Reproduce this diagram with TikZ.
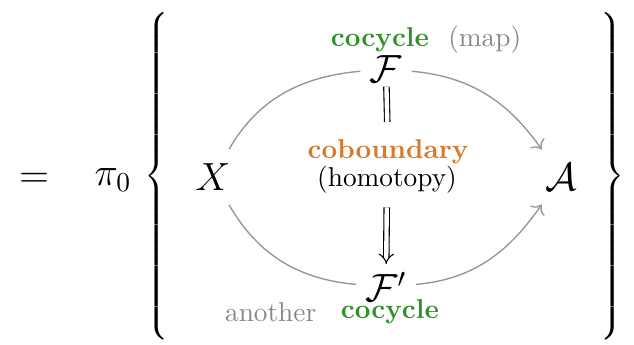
\documentclass[tikz,border=0pt]{standalone}
\usepackage{amsmath,amssymb}
\usepackage{xcolor}
\usetikzlibrary{arrows.meta,positioning}
\definecolor{cocyclegreen}{RGB}{50, 145, 45}
\definecolor{cobdorange}{RGB}{214, 122, 45}
\definecolor{softgray}{RGB}{135, 135, 135}
\definecolor{arcgray}{RGB}{150, 150, 150}

\begin{document}
\begin{tikzpicture}[x=0.3663pt, y=-0.3663pt,
    bigmath/.style={font=\Large},
    arc/.style={draw=arcgray, line width=0.5pt, -{To[length=3pt]}},
    plainarc/.style={draw=arcgray, line width=0.5pt}]
    \useasboundingbox (0,0) rectangle (634,344);

    \node[bigmath] (eq) at (34,180) {$=$};
    \node[bigmath] (pi) at (113,180) {$\pi_0$};
    \node[inner sep=0pt] (lbrace) at (158,176) {$\left\{\vrule height 63.5pt depth 58.5pt width 0pt\right.$};
    \node[inner sep=0pt] (rbrace) at (611,176) {$\left.\vrule height 63.5pt depth 58.5pt width 0pt\right\}$};

    \node[bigmath] (X) at (213,177) {$X$};
    \node[bigmath] (A) at (561,177) {$\mathcal{A}$};
    \node[bigmath] (F) at (386,69) {$\mathcal{F}$};
    \node[bigmath] (Fp) at (386,287) {$\mathcal{F}'$};

    \node (cocyc) at (380,40) {\textbf{\color{cocyclegreen}cocycle}};
    \node[right=0pt of cocyc] (map) {\color{softgray}(map)};
    \node (cobd) at (388,152) {\textbf{\color{cobdorange}coboundary}};
    \node (homot) at (387,180) {(homotopy)};
    \node (cocycb) at (390,312) {\textbf{\color{cocyclegreen}cocycle}};
    \node[left=2pt of cocycb] (another) {\color{softgray}another};

    \draw[plainarc, shorten <=2pt] (X) to[out=60, in=185] (F);
    \draw[arc, shorten >=2pt] (F) to[out=-5, in=125] (A);
    \draw[plainarc, shorten <=2pt] (X) to[out=-60, in=175] (Fp);
    \draw[arc, shorten >=2pt] (Fp) to[out=5, in=-125] (A);

    \draw[double, double distance=1.6pt, line width=0.4pt, shorten <=-2pt, shorten >=3pt] (F) -- (cobd);
    \draw[double, double distance=1.6pt, line width=0.4pt, -{Implies}, shorten <=1.5pt, shorten >=-0.5pt] (homot) -- (Fp);
\end{tikzpicture}
\end{document}
